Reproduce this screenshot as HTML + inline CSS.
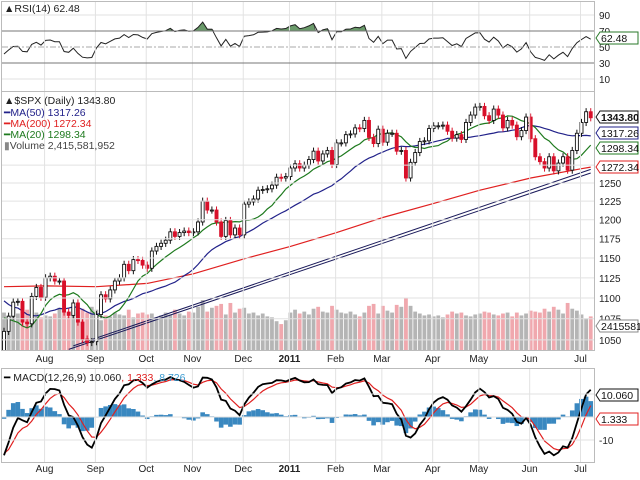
<!DOCTYPE html>
<html><head><meta charset="utf-8"><style>
html,body{margin:0;padding:0;background:#fff;}
svg{display:block;font-family:"Liberation Sans",sans-serif;}
</style></head><body>
<svg id="c" width="640" height="480" viewBox="0 0 640 480">
<defs>
<clipPath id="cp"><rect x="2" y="92" width="592" height="258"/></clipPath>
<clipPath id="cm"><rect x="2" y="369" width="592" height="93"/></clipPath>
<clipPath id="cr"><rect x="2" y="2" width="592" height="89"/></clipPath>
</defs>
</svg>
<script>
// ---- data (2-trading-day sampling, Jul 2010 - Jul 2011) ----
const preCloses=[1207,1208,1212,1191,1187,1173,1128,1159,1171,1136,1120,1071,1074,1068,1089,1070,1102,1050,1056,1091,1115,1116,1113,1092,1076,1041,1027,1028];
const closes=[1060,1078,1095,1096,1071,1069,1102,1113,1101,
1125,1127,1121,1121,1083,1079,1094,1071,1051,1047,1048,
1080,1104,1099,1110,1121,1125,1142,1134,1148,1147,1141,
1137,1159,1165,1169,1173,1184,1178,1183,1185,1183,
1184,1197,1225,1213,1213,1197,1178,1199,1180,1189,1180,
1221,1224,1228,1240,1241,1242,1247,1258,1257,1259,
1271,1277,1271,1275,1283,1295,1281,1291,1296,1276,
1307,1307,1319,1320,1329,1328,1340,1315,1306,1327,
1308,1321,1321,1295,1296,1257,1279,1293,1309,1310,1328,
1332,1332,1333,1324,1314,1319,1312,1337,1348,1360,
1361,1347,1340,1357,1348,1329,1340,1333,1316,1325,1345,
1313,1287,1280,1271,1287,1267,1278,1287,1268,1296,1321,
1337,1353,1344];
const volumes=[3.9,3.6,4.3,3.8,4.6,4.2,3.7,3.9,3.4,
3.6,3.5,3.8,4.4,4.1,3.5,3.8,4.0,4.3,3.9,4.5,
4.2,3.1,3.6,3.5,3.9,3.7,3.6,4.2,3.4,3.8,3.9,
3.7,3.8,3.4,3.6,3.9,3.7,4.2,3.8,3.6,4.0,
3.9,4.5,5.2,4.0,4.4,4.6,4.8,3.7,4.9,3.9,4.3,
4.4,3.8,3.9,3.6,3.8,3.5,3.4,3.0,2.7,3.1,
3.9,4.2,3.8,4.0,3.7,4.3,4.5,4.0,3.9,4.6,
4.2,3.9,3.8,4.0,3.7,3.5,3.9,4.6,4.8,3.8,
4.6,4.1,3.9,4.7,4.5,5.4,4.6,4.0,3.8,3.6,3.7,
3.5,3.6,3.4,3.7,4.0,3.8,3.9,3.6,3.5,3.7,
3.8,4.0,3.9,3.7,3.6,3.8,3.9,3.5,3.9,3.6,3.8,
4.1,4.0,3.9,4.3,4.0,4.5,4.2,3.8,4.9,4.3,4.1,
3.7,3.3,3.5];
const ma200Idx=[0,9,20,31,41,52,62,72,82,93,103,114,125,127];
const ma200Val=[1114,1115,1114,1118,1130,1149,1165,1183,1203,1222,1240,1257,1270,1272.34];
const trendA=[[15,1043],[127,1269]];
const trendB=[[14,1039],[127,1264]];
const monthIdx=[9,20,31,41,52,62,72,82,93,103,114,125];
const monthLabels=["Aug","Sep","Oct","Nov","Dec","2011","Feb","Mar","Apr","May","Jun","Jul"];
const priceTicks=[1050,1075,1100,1125,1150,1175,1200,1225,1250,1275];
const rsiTicks=[10,30,50,70,90];

const S=document.getElementById('c');const NS='http://www.w3.org/2000/svg';
function mk(tag,at,parent){const e=document.createElementNS(NS,tag);for(const k in at)e.setAttribute(k,at[k]);(parent||S).appendChild(e);return e;}
function txt(x,y,s,at){const e=mk('text',Object.assign({x:x,y:y,'font-size':11,fill:'#222'},at||{}));e.textContent=s;return e;}
const PR=594;
const X=i=>4+i*4.62;
const PY=p=>183-900*Math.log(p/1250);
const RY=v=>63-(v-30)*0.8;
const MY=v=>417-2.3*v;
const VY=v=>350-v*9.6;

const p1=mk('rect',{x:1.5,y:1.5,width:PR-1,height:90,fill:'#fff',stroke:'#bbb'});

const p2=mk('rect',{x:1.5,y:91.5,width:PR-1,height:259,fill:'#fff',stroke:'#bbb'});

const p3=mk('rect',{x:1.5,y:368.5,width:PR-1,height:94,fill:'#fff',stroke:'#bbb'});


const gP=mk('g',{'clip-path':'url(#cp)'});
const gM=mk('g',{'clip-path':'url(#cm)'});
const gR=mk('g',{'clip-path':'url(#cr)'});

monthIdx.forEach((m,k)=>{
  const x=X(m)-1;
  [[2,91],[92,350],[369,462]].forEach(r=>{
    const l=mk('line',{x1:x,x2:x,y1:r[0],y2:r[1],stroke:'#e2e2e2'});
    
  });
  const a=txt(x,362,monthLabels[k],{'text-anchor':'middle','font-size':10,'font-weight':monthLabels[k]==='2011'?'bold':'normal'});
  
  const b=txt(x,472,monthLabels[k],{'text-anchor':'middle','font-size':10,'font-weight':monthLabels[k]==='2011'?'bold':'normal'});
  
});

rsiTicks.forEach(v=>{
  const y=RY(v);
  const l=mk('line',{x1:2,x2:PR,y1:y,y2:y,stroke:(v===30||v===70)?'#777':(v===50?'#aaa':'#e2e2e2'),'stroke-dasharray':v===50?'6,2,2,2':'none'});
  
  const t=txt(599,y+4,String(v),{'font-size':10});
  
});
priceTicks.forEach(v=>{
  const y=PY(v);
  const l=mk('line',{x1:2,x2:PR,y1:y,y2:y,stroke:'#e2e2e2'});
  
  const t=txt(599,y+4,String(v),{'font-size':10});
  
});
[10,0,-10].forEach(v=>{
  const l=mk('line',{x1:2,x2:PR,y1:MY(v),y2:MY(v),stroke:'#e2e2e2'});
  
});
const mt=txt(599,MY(-10)+4,'-10',{'font-size':10});


closes.forEach((c,i)=>{
  const prev=i?closes[i-1]:preCloses[preCloses.length-1];
  const r=mk('rect',{x:X(i)-1.9,y:VY(volumes[i]),width:3.8,height:350-VY(volumes[i]),fill:c>=prev?'#b5b5b5':'#f0a8ae'},gP);
  
});

const all=preCloses.concat(closes);const off=preCloses.length;
function sma(n){return closes.map((c,i)=>{let s=0;for(let k=0;k<n;k++)s+=all[off+i-k];return s/n;});}
function poly(pts,col,name,w,parent){const p=mk('polyline',{points:pts.map(q=>q[0].toFixed(1)+','+q[1].toFixed(1)).join(' '),fill:'none',stroke:col,'stroke-width':w||1.2},parent);return p;}
poly(ma200Idx.map((m,k)=>[X(m),PY(ma200Val[k])]),'#e02020','ma200-line',1.2,gP);
poly(sma(25).map((v,i)=>[X(i),PY(v)]),'#22228a','ma50-line',1.2,gP);
poly(sma(10).map((v,i)=>[X(i),PY(v)]),'#1e7a1e','ma20-line',1.2,gP);
poly(trendA.map(q=>[X(q[0]),PY(q[1])]),'#1a1a5a','trendline-upper',1,gP);
poly(trendB.map(q=>[X(q[0]),PY(q[1])]),'#1a1a5a','trendline-lower',1,gP);

closes.forEach((c,i)=>{
  const o=i?closes[i-1]:preCloses[preCloses.length-1];
  const col=c>=o?'#111':'#d8102a';
  const hi=Math.max(o,c)*1.004,lo=Math.min(o,c)*0.996;
  const w=mk('line',{x1:X(i),x2:X(i),y1:PY(hi),y2:PY(lo),stroke:col,'stroke-width':1},gP);
  
  const yt=PY(Math.max(o,c)),yb=PY(Math.min(o,c));
  const b=mk('rect',{x:X(i)-1.5,y:yt,width:3,height:Math.max(1,yb-yt),fill:c>=o?'#fff':col,stroke:col,'stroke-width':0.9},gP);
  
});

// RSI (Wilder smoothing on 2-day sampling)
const rsi=[];{let ag=0,al=0;const n=11;for(let k=1;k<all.length;k++){const d=all[k]-all[k-1];const g=Math.max(d,0),l=Math.max(-d,0);if(k<=n){ag+=g/n;al+=l/n;}else{ag=(ag*(n-1)+g)/n;al=(al*(n-1)+l)/n;}if(k>=off)rsi.push(100-100/(1+ag/Math.max(al,1e-6)));}}
const rsiPts=rsi.map((v,i)=>[X(i),RY(v)]);
let seg=[];rsiPts.concat([[0,0]]).forEach((p,i)=>{if(i<rsi.length&&rsi[i]>70){seg.push(p);}else if(seg.length){const f=mk('polygon',{points:[[seg[0][0]-2,RY(70)]].concat(seg,[[seg[seg.length-1][0]+2,RY(70)]]).map(q=>q.join(',')).join(' '),fill:'#6a9a6a',stroke:'#333','stroke-width':0.6},gR);seg=[];}});
poly(rsiPts,'#222','rsi-line',1,gR);

function ema(arr,n){const a=2/(n+1);let e=arr[0];return arr.map(v=>e=e+a*(v-e));}
const e12=ema(all,6),e26=ema(all,13);const macdAll=e12.map((v,i)=>v-e26[i]);const sigAll=ema(macdAll,4.5);
const macd=macdAll.slice(off),sig=sigAll.slice(off);
macd.forEach((m,i)=>{const h=m-sig[i];const y0=MY(0),y1=MY(h);
  const r=mk('rect',{x:X(i)-2.3,y:Math.min(y0,y1),width:4.6,height:Math.abs(y1-y0),fill:'#3a88c0'},gM);
  });
poly(sig.map((v,i)=>[X(i),MY(v)]),'#e02020','macd-signal-line',1.2,gM);
poly(macd.map((v,i)=>[X(i),MY(v)]),'#000','macd-line',1.8,gM);

function leg(x,y,parts,name){const t=mk('text',{x:x,y:y,'font-size':10.5,fill:'#222'});parts.forEach(p=>{const s=mk('tspan',{fill:p[1]},t);s.textContent=p[0];});}
leg(4,12,[['▲RSI(14) 62.48','#222']],'rsi-legend');
leg(4,104,[['▲$SPX (Daily) 1343.80','#222']],'price-legend');
leg(4,116,[['━','#22228a'],['MA(50) 1317.26','#22228a']],'ma50-legend');
leg(4,127,[['━','#e02020'],['MA(200) 1272.34','#e02020']],'ma200-legend');
leg(4,138,[['━','#1e7a1e'],['MA(20) 1298.34','#1e7a1e']],'ma20-legend');
leg(4,149,[['▮','#888'],['Volume 2,415,581,952','#444']],'volume-legend');
leg(4,381,[['━ ','#000'],['MACD(12,26,9) 10.060','#222'],[', 1.333','#e02020'],[', 8.726','#3a9ad0']],'macd-legend');

function tag(y,s,col,name,bold){const g=mk('g',{});
  mk('polygon',{points:`596,${y} 600,${y-6} 638,${y-6} 638,${y+6} 600,${y+6}`,fill:'#fff',stroke:col,'stroke-width':1},g);
  const t=mk('text',{x:601,y:y+4,'font-size':10.5,fill:'#111','font-weight':bold?'bold':'normal'},g);t.textContent=s;}
tag(38,'62.48','#2a7a2a','rsi-value-tag');
tag(117,'1343.80','#111','price-value-tag',true);
tag(133,'1317.26','#22228a','ma50-value-tag');
tag(148,'1298.34','#1e7a1e','ma20-value-tag');
tag(167,'1272.34','#e02020','ma200-value-tag');
tag(326,'2415581','#888','volume-value-tag');
tag(395,'10.060','#111','macd-value-tag');
tag(419,'1.333','#e02020','signal-value-tag');
</script>
</body></html>
